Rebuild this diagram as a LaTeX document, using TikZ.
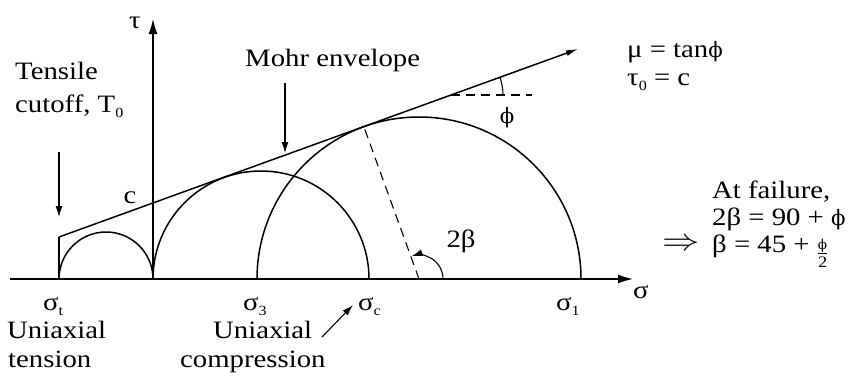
\documentclass[tikz,border=0pt]{standalone}
\usepackage{fontspec}
\setmainfont[FakeStretch=1.15]{Liberation Serif}
\newfontfamily\phif[Scale=0.85]{DejaVu Serif}
\usetikzlibrary{arrows.meta,calc}
\newcommand{\myphi}{{\phif ϕ}}
\begin{document}
\begin{tikzpicture}[x=1pt,y=1pt,font=\fontsize{25}{30}\selectfont,
  curve/.style={line width=1.5pt},
  axisarr/.style={line width=1.4pt,-{Latex[length=15pt,width=9pt]}},
  ptr/.style={line width=1.1pt,-{Latex[length=11pt,width=7pt]}},
  dsh/.style={line width=1.1pt,dash pattern=on 9pt off 6pt},
  lbl/.style={anchor=base west,inner sep=0pt}]
\useasboundingbox (0,0) rectangle (858,376);
% axes
\coordinate (xs) at (10,97);
\coordinate (xe) at (633,97);
\draw[axisarr] (xs) -- (xe);
\coordinate (ys) at (153,97);
\coordinate (ye) at (153,357);
\draw[axisarr] (ys) -- (ye);
% Mohr circles
\coordinate (c1) at (106,97);
\coordinate (c2) at (261,97);
\coordinate (c3) at (419,97);
\draw[curve] (59,97) arc[start angle=180,end angle=0,radius=47];
\draw[curve] (153,97) arc[start angle=180,end angle=0,radius=108];
\draw[curve] (257,97) arc[start angle=180,end angle=0,radius=162];
% tensile cutoff and envelope
\coordinate (cb) at (59,97);
\coordinate (ct) at (59,139);
\coordinate (ee) at (578,327);
\draw[curve] (cb) -- (ct);
\draw[curve,-{Latex[length=12pt,width=6pt]}] (ct) -- (ee);
% radius to tangent point
\coordinate (tp) at ($(c3)+(109.91:162)$);
\draw[dsh] (c3) -- (tp);
% phi angle
\coordinate (pa) at (451,281);
\coordinate (pb) at (532,281);
\draw[dsh] (pa) -- (pb);
\draw[line width=1.1pt] (503,281) arc[start angle=0,end angle=19.9,radius=52];
\node (phil) at (507,258) {\myphi};
% 2 beta angle
\draw[ptr] (443,97) arc[start angle=0,end angle=108,radius=24];
\node (tb) at (461,135) {2β};
% labels
\node[lbl] (tau) at (129,348) {τ};
\node[lbl] (sig) at (633,78) {σ};
\node (cl) at (130,178) {c};
\node[lbl] (tens1) at (15,297) {Tensile};
\node[lbl] (tens2) at (15,264) {cutoff, T\raisebox{-5pt}{\fontsize{14}{14}\selectfont 0}};
\coordinate (ta) at (59,224);
\coordinate (tt) at (59,159);
\draw[ptr] (ta) -- (tt);
\node[lbl] (mohr) at (245,310) {Mohr envelope};
\coordinate (ma) at (285,293);
\coordinate (mt) at (285,223);
\draw[ptr] (ma) -- (mt);
\node[lbl] (mu) at (627,319) {μ = tan\myphi};
\node[lbl] (tz) at (627,291) {τ\raisebox{-5pt}{\fontsize{14}{14}\selectfont 0} = c};
\node[lbl] (af1) at (712,178) {At failure,};
\node[lbl] (af2) at (712,151) {2β = 90 + \myphi};
\node[lbl] (af3) at (712,124) {β = 45 + \raisebox{-7pt}{$\frac{\mbox{\fontsize{16}{16}\selectfont\phif ϕ}}{\mbox{\fontsize{16}{16}\selectfont 2}}$}};
\node (imp) at (681,131) {\scalebox{1.5}[1.25]{$\Rightarrow$}};
% axis labels
\node[lbl] (st) at (43,66) {σ\raisebox{-5pt}{\fontsize{14}{14}\selectfont t}};
\node[lbl] (s3) at (243,66) {σ\raisebox{-5pt}{\fontsize{14}{14}\selectfont 3}};
\node[lbl] (sc) at (358,66) {σ\raisebox{-5pt}{\fontsize{14}{14}\selectfont c}};
\node[lbl] (s1) at (556,66) {σ\raisebox{-5pt}{\fontsize{14}{14}\selectfont 1}};
\node[lbl] (ut1) at (7,38) {Uniaxial};
\node[lbl] (ut2) at (8,9) {tension};
\node[lbl] (uc1) at (213,38) {Uniaxial};
\node[lbl] (uc2) at (180,9) {compression};
\coordinate (ua) at (322,39);
\coordinate (ub) at (353,71);
\draw[ptr] (ua) -- (ub);
\end{tikzpicture}
\end{document}
